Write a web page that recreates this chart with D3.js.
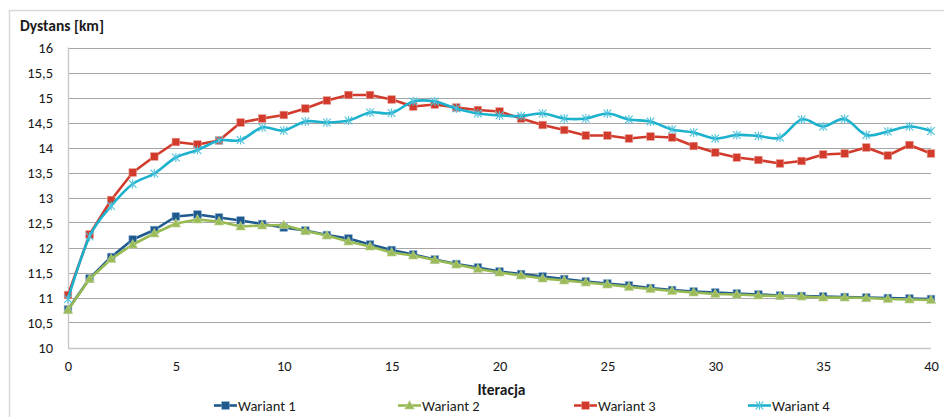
<!DOCTYPE html>
<html><head><meta charset="utf-8">
<script src="https://cdn.jsdelivr.net/npm/d3@7"></script>
<style>
html,body{margin:0;padding:0;background:#fff;}
svg{display:block;font-family:Carlito,Calibri,Lato,sans-serif;}
</style></head>
<body><svg id="c" width="944" height="417"></svg>
<script>
const iterations = [0,1,2,3,4,5,6,7,8,9,10,11,12,13,14,15,16,17,18,19,20,21,22,23,24,25,26,27,28,29,30,31,32,33,34,35,36,37,38,39,40];
const wariant1 = [10.76,11.38,11.81,12.16,12.35,12.62,12.66,12.6,12.54,12.47,12.4,12.34,12.25,12.18,12.06,11.95,11.86,11.76,11.67,11.6,11.52,11.47,11.42,11.37,11.32,11.28,11.24,11.19,11.15,11.12,11.1,11.08,11.06,11.04,11.03,11.02,11.01,11.0,10.99,10.98,10.97];
const wariant2 = [10.75,11.37,11.77,12.06,12.28,12.48,12.56,12.52,12.42,12.44,12.45,12.33,12.24,12.12,12.02,11.9,11.84,11.75,11.66,11.57,11.5,11.44,11.38,11.34,11.3,11.26,11.21,11.17,11.13,11.1,11.07,11.06,11.04,11.03,11.02,11.0,11.0,10.99,10.97,10.96,10.95];
const wariant3 = [11.05,12.26,12.95,13.5,13.82,14.11,14.06,14.14,14.5,14.58,14.65,14.78,14.94,15.05,15.05,14.96,14.82,14.86,14.8,14.75,14.72,14.58,14.45,14.35,14.24,14.24,14.18,14.22,14.2,14.03,13.9,13.8,13.75,13.68,13.73,13.86,13.88,14.0,13.84,14.05,13.88];
const wariant4 = [10.97,12.22,12.83,13.27,13.48,13.8,13.95,14.14,14.15,14.4,14.34,14.52,14.5,14.54,14.7,14.69,14.92,14.92,14.78,14.68,14.64,14.63,14.68,14.58,14.58,14.68,14.56,14.52,14.36,14.3,14.18,14.25,14.23,14.2,14.56,14.42,14.57,14.25,14.32,14.42,14.33];
const seriesNames = ["Wariant 1","Wariant 2","Wariant 3","Wariant 4"];
const yTicks = [10,10.5,11,11.5,12,12.5,13,13.5,14,14.5,15,15.5,16];
const xTicks = [0,5,10,15,20,25,30,35,40];
const yTitle = "Dystans [km]";
const xTitle = "Iteracja";

const svg = d3.select("#c");
const L = 68, R = 931, T = 47.5, B = 347.5;
const x = d3.scaleLinear().domain([0,40]).range([L,R]);
const y = d3.scaleLinear().domain([10,16]).range([B,T]);
const fmt = v => String(v).replace(".", ",");

// outer chart border
svg.append("rect").attr("x",9.5).attr("y",10.5).attr("width",960).attr("height",440)
  .attr("fill","none").attr("stroke","#d9d9d9").attr("stroke-width",1.5);

// gridlines
svg.append("g").selectAll("line").data(yTicks.filter(d=>d>10)).join("line")
  .attr("x1",L).attr("x2",R).attr("y1",d=>Math.round(y(d))+0.5).attr("y2",d=>Math.round(y(d))+0.5)
  .attr("stroke","#a6a6a6").attr("stroke-width",1);

// axes lines
svg.append("line").attr("x1",L+0.5).attr("x2",L+0.5).attr("y1",T).attr("y2",B+0.5).attr("stroke","#c6c6c6").attr("stroke-width",1.3);
svg.append("line").attr("x1",L).attr("x2",R).attr("y1",Math.round(B)+0.5).attr("y2",Math.round(B)+0.5).attr("stroke","#c6c6c6").attr("stroke-width",1.3);

// y axis labels via d3 axis
const yAxis = d3.axisLeft(y).tickValues(yTicks).tickFormat(fmt).tickSize(0).tickPadding(15);
const gy = svg.append("g").attr("transform",`translate(${L},0)`).call(yAxis);
gy.select(".domain").remove();
gy.selectAll("text").attr("font-size","14.5px").attr("fill","#1a1a1a").attr("font-family","Carlito,Calibri,Lato,sans-serif");

const xAxis = d3.axisBottom(x).tickValues(xTicks).tickFormat(d=>d).tickSize(0).tickPadding(13);
const gx = svg.append("g").attr("transform",`translate(0,${B})`).call(xAxis);
gx.select(".domain").remove();
gx.selectAll("text").attr("font-size","14.5px").attr("fill","#1a1a1a").attr("font-family","Carlito,Calibri,Lato,sans-serif");

// titles
svg.append("text").attr("x",20).attr("y",31).text(yTitle)
  .attr("font-weight","bold").attr("font-size","15.5px").attr("fill","#1a1a1a");
svg.append("text").attr("x",(L+R)/2+2).attr("y",395).attr("text-anchor","middle").text(xTitle)
  .attr("font-weight","bold").attr("font-size","15.5px").attr("fill","#1a1a1a");

const colors = ["#1f5a8f","#97ba52","#d23a2c","#1cb1cd"];
const markerCol = ["#1f5a8f","#9bbb59","#d23a2c","#4fc3db"];
const datas = [wariant1,wariant2,wariant3,wariant4];
const curves = [d3.curveLinear,d3.curveLinear,d3.curveLinear,d3.curveCatmullRom.alpha(0)];

function drawMarker(g, k, cx, cy){
  if(k===0 || k===2){
    g.append("rect").attr("x",cx-3.8).attr("y",cy-3.8).attr("width",7.6).attr("height",7.6)
      .attr("fill",markerCol[k]).attr("stroke", k===0?"#7fa6cc":"#e59a92").attr("stroke-width",0.6);
  } else if(k===1){
    g.append("path").attr("d",`M${cx},${cy-5} L${cx+4.8},${cy+3.6} L${cx-4.8},${cy+3.6}Z`)
      .attr("fill",markerCol[k]).attr("stroke","#c5d89e").attr("stroke-width",0.6);
  } else {
    const s=3.8;
    g.append("path").attr("d",`M${cx-s},${cy-s}L${cx+s},${cy+s}M${cx-s},${cy+s}L${cx+s},${cy-s}M${cx},${cy-s-0.8}L${cx},${cy+s+0.8}`)
      .attr("stroke",markerCol[k]).attr("stroke-width",1.1).attr("fill","none");
  }
}

datas.forEach((vals,k)=>{
  const pts = iterations.map((it,i)=>[it,vals[i]]);
  const g = svg.append("g");
  g.append("path").datum(pts)
    .attr("d", d3.line().x(d=>x(d[0])).y(d=>y(d[1])).curve(curves[k]))
    .attr("fill","none").attr("stroke",colors[k]).attr("stroke-width",2.6).attr("stroke-linejoin","round");
  pts.forEach(p=>drawMarker(g,k,x(p[0]),y(p[1])));
});

// legend
const legX = [214, 398, 574, 748];
seriesNames.forEach((n,k)=>{
  const g = svg.append("g");
  const ly = 405.5;
  g.append("line").attr("x1",legX[k]).attr("x2",legX[k]+23).attr("y1",ly).attr("y2",ly)
    .attr("stroke",colors[k]).attr("stroke-width",2.6);
  drawMarker(g,k,legX[k]+11.5,ly);
  g.append("text").attr("x",legX[k]+24).attr("y",ly+5).text(n)
    .attr("font-size","14.5px").attr("fill","#1a1a1a");
});
</script></body></html>
